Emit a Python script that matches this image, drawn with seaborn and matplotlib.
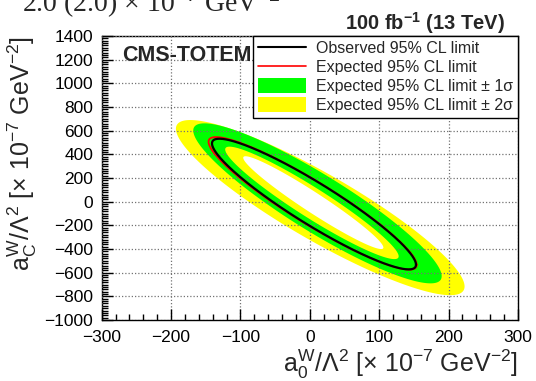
import numpy as np
import pandas as pd
import matplotlib
matplotlib.use("Agg")
import matplotlib.pyplot as plt
import seaborn as sns
from matplotlib.lines import Line2D
from matplotlib.patches import Patch
from matplotlib.ticker import MultipleLocator

# 95% CL contours in the (a0W, aCW) plane, each one an ellipse described by
# its centre, half-extent along each axis and the a0-aC correlation.
contour_keys = ["exp_plus2", "exp_plus1", "exp_minus1", "exp_minus2", "expected", "observed"]
centre_a0 = [15, 11, 3, 5, 4, 6]
centre_ac = [-50, -14, -10, -8, -14, -20]
half_a0 = [208, 179, 125, 101, 150, 147]
half_ac = [740, 676, 475, 392, 560, 552]
correlation = [-0.90, -0.91, -0.95, -0.967, -0.928, -0.928]

x_ticks = [-300, -200, -100, 0, 100, 200, 300]
y_ticks = [-1000, -800, -600, -400, -200, 0, 200, 400, 600, 800, 1000, 1200, 1400]

legend_labels = [
    "Observed 95% CL limit",
    "Expected 95% CL limit",
    "Expected 95% CL limit \u00b1 1\u03c3",
    "Expected 95% CL limit \u00b1 2\u03c3",
]


def contour_frame(i, n=400):
    t = np.linspace(0, 2 * np.pi, n)
    phi = np.arccos(correlation[i])
    return pd.DataFrame({
        "a0": centre_a0[i] + half_a0[i] * np.cos(t),
        "ac": centre_ac[i] + half_ac[i] * np.cos(t + phi),
        "order": np.arange(n),
    })


sns.set_theme(style="ticks")
plt.rcParams["font.family"] = ["Liberation Sans", "DejaVu Sans"]
plt.rcParams["mathtext.fontset"] = "custom"
plt.rcParams["mathtext.rm"] = "Liberation Sans"
plt.rcParams["mathtext.it"] = "Liberation Sans:italic"
plt.rcParams["mathtext.bf"] = "Liberation Sans:bold"

fig = plt.figure(figsize=(5.36, 3.81), dpi=100)
ax = fig.add_axes([0.1897, 0.160, 0.7767, 0.7455])

contours = {k: contour_frame(i) for i, k in enumerate(contour_keys)}

# bands: outer edges filled, inner edges punched back out
ax.fill(contours["exp_plus2"]["a0"], contours["exp_plus2"]["ac"], color="#ffff00", lw=0, zorder=1)
ax.fill(contours["exp_plus1"]["a0"], contours["exp_plus1"]["ac"], color="#00ff00", lw=0, zorder=2)
ax.fill(contours["exp_minus1"]["a0"], contours["exp_minus1"]["ac"], color="#ffff00", lw=0, zorder=3)
ax.fill(contours["exp_minus2"]["a0"], contours["exp_minus2"]["ac"], color="white", lw=0, zorder=4)

sns.lineplot(data=contours["expected"], x="a0", y="ac", sort=False, estimator=None,
             color="#ff0000", lw=1.3, ax=ax, zorder=6)
sns.lineplot(data=contours["observed"], x="a0", y="ac", sort=False, estimator=None,
             color="black", lw=1.6, ax=ax, zorder=7)

ax.set_xlim(-300, 300)
ax.set_ylim(-1000, 1400)
ax.set_xticks(x_ticks)
ax.set_yticks(y_ticks)
ax.xaxis.set_minor_locator(MultipleLocator(20))
ax.yaxis.set_minor_locator(MultipleLocator(20))
ax.set_xticklabels([f"{v}".replace("-", "\u2212") for v in x_ticks])
ax.set_yticklabels([f"{v}".replace("-", "\u2212") for v in y_ticks])
ax.tick_params(which="both", direction="in", top=False, right=False, colors="black",
               labelsize=12.5, width=1)
ax.tick_params(which="major", length=8)
ax.tick_params(which="minor", length=4)
ax.tick_params(axis="y", pad=6)
ax.tick_params(axis="x", pad=7.5)
for s in ax.spines.values():
    s.set_color("black")
    s.set_linewidth(1)

ax.grid(True, which="major", color="0.45", linestyle=(0, (1.0, 1.6)), linewidth=0.9, zorder=5)
ax.set_axisbelow(False)
for gl in ax.get_xgridlines() + ax.get_ygridlines():
    gl.set_zorder(5)

ax.set_xlabel("")
ax.set_ylabel("")

fig.text(0.9664, 0.024,
         r"$\mathrm{a}_{0}^{\mathrm{W}}/\Lambda^{2}$ [$\times$ 10$^{-7}$ GeV$^{-2}$]",
         ha="right", va="baseline", fontsize=18)
fig.text(0.041, 0.9055,
         r"$\mathrm{a}_{\mathrm{C}}^{\mathrm{W}}/\Lambda^{2}$ [$\times$ 10$^{-7}$ GeV$^{-2}$]",
         ha="center", va="top", rotation=90, fontsize=18)

fig.text(0.942, 0.923, r"100 fb$^{\mathbf{-1}}$ (13 TeV)", ha="right", va="baseline",
         fontsize=14.5, fontweight="bold")
ax.text(0.049, 0.913, "CMS-TOTEM", transform=ax.transAxes, ha="left", va="baseline",
        fontsize=15.5, fontweight="bold")

fig.text(0.041, 0.969, "2.0 (2.0) \u00d7 10$^{-7}$ GeV$^{-2}$", ha="left", va="baseline",
         fontsize=20, family="Liberation Serif")

handles = [
    Line2D([], [], color="black", lw=1.5),
    Line2D([], [], color="#ff0000", lw=1.2),
    Patch(facecolor="#00ff00", edgecolor="none"),
    Patch(facecolor="#ffff00", edgecolor="none"),
]
leg = ax.legend(handles, legend_labels, loc="upper right", bbox_to_anchor=(1, 1),
                borderaxespad=0, frameon=True, fancybox=False, fontsize=11.5,
                handlelength=3.0, handleheight=1.0, handletextpad=0.65,
                labelspacing=0.2, borderpad=0.3)
leg.get_frame().set_edgecolor("black")
leg.get_frame().set_linewidth(1)
leg.get_frame().set_alpha(1)
leg.set_zorder(10)

fig.savefig("out.png", dpi=100)
